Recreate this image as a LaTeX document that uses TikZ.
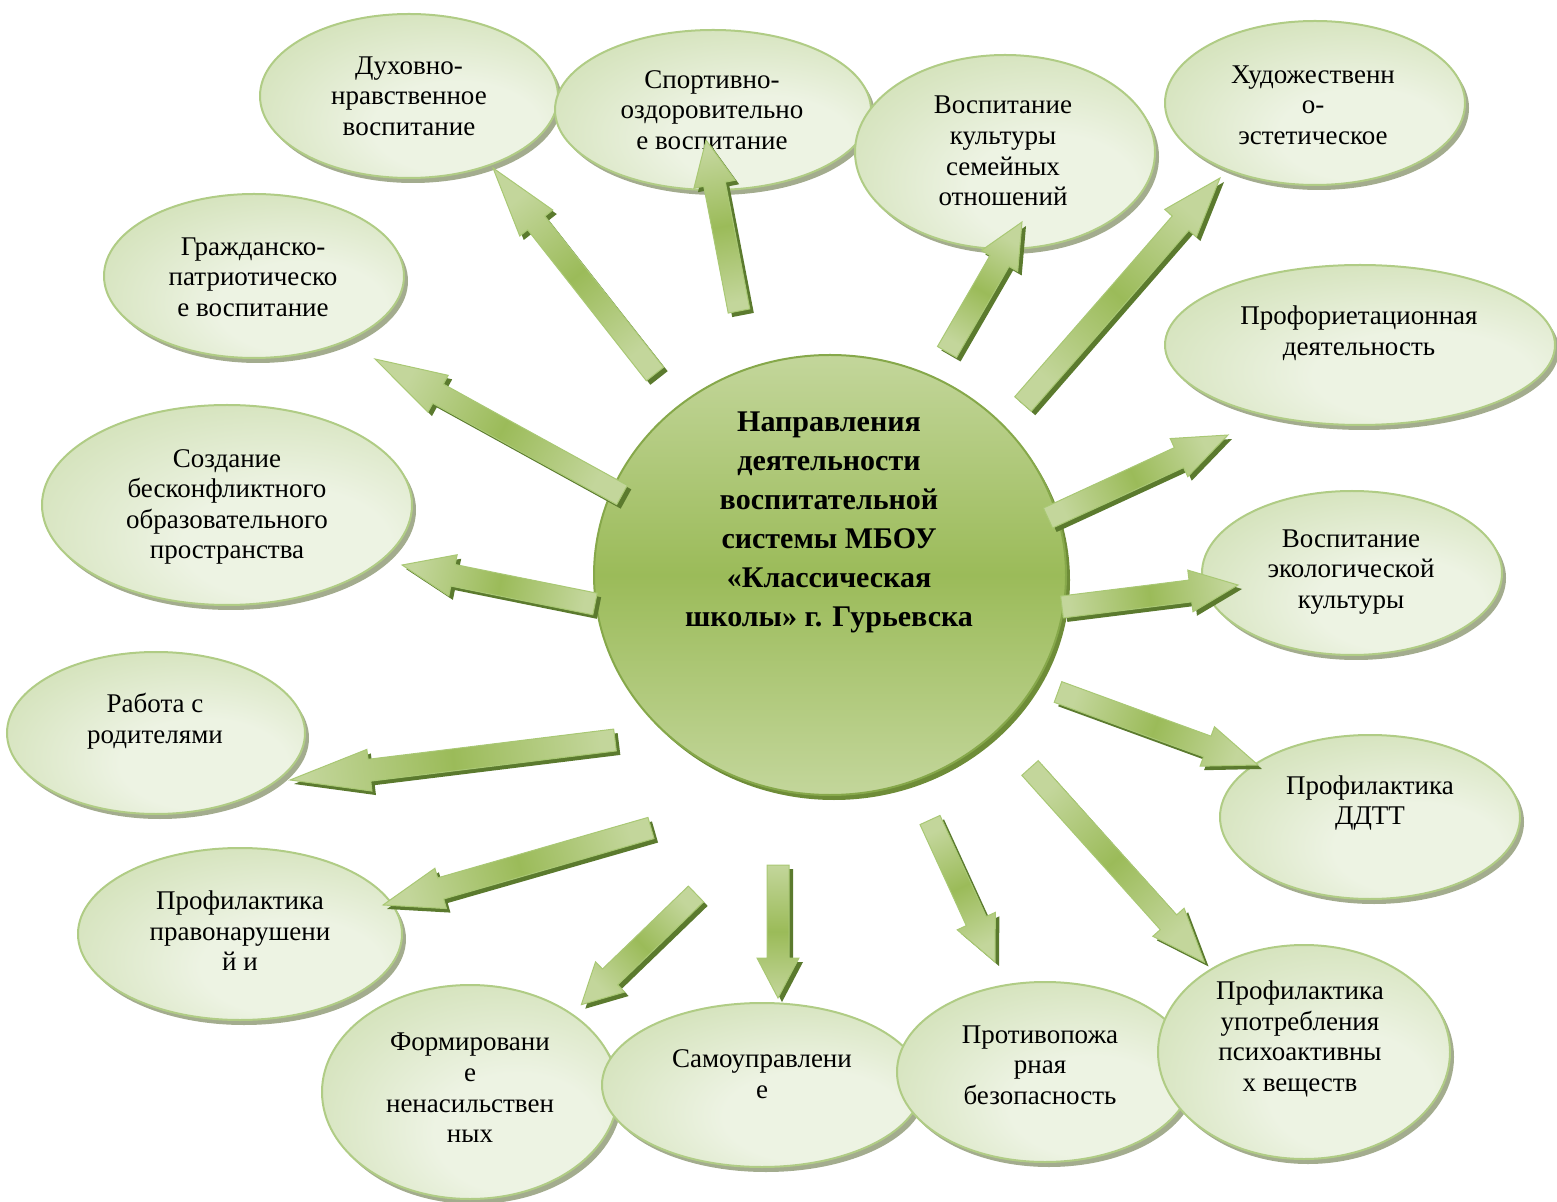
\documentclass[tikz,border=0pt]{standalone}
\usepackage{fontspec}
\setmainfont{Liberation Serif}
\usetikzlibrary{shapes.geometric,shadows,calc}
\definecolor{arlight}{HTML}{C3D69B}
\definecolor{armid}{HTML}{9BBB59}
\definecolor{arshadow}{HTML}{5B7A2E}
\definecolor{aredge}{HTML}{A9C874}
\definecolor{elldark}{HTML}{C3D7A0}
\definecolor{elllight}{HTML}{EDF3E3}
\definecolor{elledge}{HTML}{B0CC85}
\definecolor{ellshadow}{HTML}{A3AC8E}
\definecolor{cedge}{HTML}{86A84A}
\definecolor{cshadow}{HTML}{6E8C38}
\pgfdeclareradialshading{bubshade}{\pgfpoint{10bp}{-12bp}}{%
  color(0bp)=(elllight); color(14bp)=(elllight); color(48bp)=(elldark); color(70bp)=(elldark)}
\tikzset{
  bubble/.style={ellipse, draw=elledge, line width=1pt, inner sep=0pt,
     shade, shading=bubshade,
     drop shadow={shadow xshift=2pt, shadow yshift=-2.5pt, fill=ellshadow, opacity=1}},
  btext/.style={align=center, font=\fontsize{13.5}{15.3}\selectfont, inner sep=0pt},
  hub/.style={ellipse, draw=cedge, line width=1pt, inner sep=0pt,
     top color=arlight, bottom color=arlight, middle color=armid,
     drop shadow={shadow xshift=2pt, shadow yshift=-2.5pt, fill=cshadow, opacity=1}},
  hubtext/.style={align=center, font=\fontsize{15}{19.5}\selectfont\bfseries, inner sep=0pt},
}
\newcommand\garrow[3]{%
  \path let \p1=(#1), \p2=(#2) in \pgfextra{%
    \pgfmathsetmacro\garang{atan2(\y2-\y1,\x2-\x1)}%
    \pgfmathsetmacro\garlen{veclen(\x2-\x1,\y2-\y1)}%
    \pgfmathsetmacro\garsh{\garang+90}%
    \xdef\garang{\garang}\xdef\garlen{\garlen}\xdef\garsh{\garsh}};
  \fill[arshadow, shift={(#1)}, xshift=2pt, yshift=-2pt, rotate=\garang, x=1pt, y=1pt]
    (0,-5.5) -- (\garlen-#3,-5.5) -- (\garlen-#3,-10.5) -- (\garlen,0) -- (\garlen-#3,10.5) -- (\garlen-#3,5.5) -- (0,5.5) -- cycle;
  \shade[draw=aredge, line width=0.5pt, shift={(#1)}, rotate=\garang, x=1pt, y=1pt,
    top color=arlight, bottom color=arlight, middle color=armid, shading angle=\garsh]
    (0,-5.5) -- (\garlen-#3,-5.5) -- (\garlen-#3,-10.5) -- (\garlen,0) -- (\garlen-#3,10.5) -- (\garlen-#3,5.5) -- (0,5.5) -- cycle;
}
\begin{document}
\begin{tikzpicture}[x=0.5pt,y=-0.5pt]
\useasboundingbox (0,0) rectangle (1557,1202);
% central hub
\node[hub, minimum width=236pt, minimum height=220pt] (hub) at (830,575) {};
\node[hubtext] (hubt) at (829,522) {Направления\\деятельности\\воспитательной\\системы МБОУ\\«Классическая\\школы» г. Гурьевска};
% bubbles
\node[bubble, minimum width=149pt, minimum height=82pt] (duh) at (409,96) {};
\node[btext] (duht) at (409,96) {Духовно-\\нравственное\\воспитание};
\node[bubble, minimum width=158pt, minimum height=80pt] (sport) at (713,110) {};
\node[btext] (sportt) at (712,110) {Спортивно-\\оздоровительно\\е воспитание};
\node[bubble, minimum width=150pt, minimum height=97pt] (sem) at (1005,152) {};
\node[btext] (semt) at (1003,151) {Воспитание\\культуры\\семейных\\отношений};
\node[bubble, minimum width=150pt, minimum height=82pt] (hud) at (1315,103) {};
\node[btext] (hudt) at (1313,105) {Художественн\\о-\\эстетическое};
\node[bubble, minimum width=150pt, minimum height=82pt] (grazh) at (254,276) {};
\node[btext] (grazht) at (253,277) {Гражданско-\\патриотическо\\е воспитание};
\node[bubble, minimum width=195pt, minimum height=80pt] (prof) at (1360,345) {};
\node[btext] (proft) at (1359,333) {Профориетационная\\деятельность};
\node[bubble, minimum width=185pt, minimum height=100pt] (sozd) at (227,505) {};
\node[btext] (sozdt) at (227,507) {Создание\\бесконфликтного\\образовательного\\пространства};
\node[bubble, minimum width=150pt, minimum height=82pt] (eko) at (1352,573) {};
\node[btext] (ekot) at (1351,572) {Воспитание\\экологической\\культуры};
\node[bubble, minimum width=149pt, minimum height=81pt] (rab) at (156,733) {};
\node[btext] (rabt) at (155,721) {Работа с\\родителями};
\node[bubble, minimum width=150pt, minimum height=82pt] (ddtt) at (1370,817) {};
\node[btext] (ddttt) at (1370,803) {Профилактика\\ДДТТ};
\node[bubble, minimum width=162pt, minimum height=86pt] (pravo) at (240,934) {};
\node[btext] (pravot) at (240,931) {Профилактика\\правонарушени\\й и};
\node[bubble, minimum width=148pt, minimum height=107pt] (form) at (470,1092) {};
\node[btext] (formt) at (470,1088) {Формировани\\е\\ненасильствен\\ных};
\node[bubble, minimum width=160pt, minimum height=82pt] (samo) at (762,1085) {};
\node[btext] (samot) at (762,1074) {Самоуправлени\\е};
\node[bubble, minimum width=148pt, minimum height=90pt] (pozh) at (1045,1072) {};
\node[btext] (pozht) at (1040,1065) {Противопожа\\рная\\безопасность};
\node[bubble, minimum width=146pt, minimum height=107pt] (psih) at (1304,1052) {};
\node[btext] (psiht) at (1300,1039) {Профилактика\\употребления\\психоактивны\\х веществ};
% arrow end points
\coordinate (a1t) at (655,374);  \coordinate (a1h) at (493,168);
\coordinate (a2t) at (739,311);  \coordinate (a2h) at (706,140);
\coordinate (a3t) at (947,352);  \coordinate (a3h) at (1022,222);
\coordinate (a4t) at (1023,404); \coordinate (a4h) at (1220,178);
\coordinate (a5t) at (622,495);  \coordinate (a5h) at (375,359);
\coordinate (a6t) at (1048,518); \coordinate (a6h) at (1228,435);
\coordinate (a7t) at (595,604);  \coordinate (a7h) at (402,565);
\coordinate (a8t) at (1062,607); \coordinate (a8h) at (1238,585);
\coordinate (a9t) at (615,740);  \coordinate (a9h) at (290,780);
\coordinate (a10t) at (1058,692); \coordinate (a10h) at (1258,765);
\coordinate (a11t) at (651,828); \coordinate (a11h) at (383,905);
\coordinate (a12t) at (696,894); \coordinate (a12h) at (581,1005);
\coordinate (a13t) at (778,865); \coordinate (a13h) at (778,998);
\coordinate (a14t) at (930,820); \coordinate (a14h) at (995,962);
\coordinate (a15t) at (1030,768); \coordinate (a15h) at (1205,963);
% arrows
\garrow{a1t}{a1h}{35}
\garrow{a2t}{a2h}{22.5}
\garrow{a3t}{a3h}{22.5}
\garrow{a4t}{a4h}{30}
\garrow{a5t}{a5h}{36}
\garrow{a6t}{a6h}{27}
\garrow{a7t}{a7h}{26}
\garrow{a8t}{a8h}{24}
\garrow{a9t}{a9h}{40}
\garrow{a10t}{a10h}{27}
\garrow{a11t}{a11h}{30}
\garrow{a12t}{a12h}{20}
\garrow{a13t}{a13h}{20}
\garrow{a14t}{a14h}{22.5}
\garrow{a15t}{a15h}{27}
\end{tikzpicture}
\end{document}
